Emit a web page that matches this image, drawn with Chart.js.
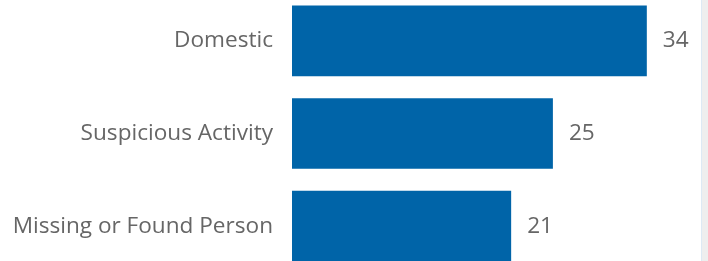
<!DOCTYPE html>
<html>
<head>
<meta charset="utf-8">
<script src="https://cdn.jsdelivr.net/npm/chart.js@4/dist/chart.umd.min.js"></script>
<style>
  html, body { margin: 0; padding: 0; background: #fff; overflow: hidden; width: 708px; height: 261px; }
  #wrap { position: relative; width: 708px; height: 261px; overflow: hidden; }
  #box { position: absolute; left: 0; top: -38px; width: 708px; height: 343px; }
  #track { position: absolute; left: 701px; top: 0; width: 7px; height: 261px; background: #eeeeee; border-left: 1px solid #dde9f4; box-sizing: border-box; }
</style>
</head>
<body>
<div id="wrap">
  <div id="box"><canvas id="c"></canvas></div>
  <div id="track"></div>
</div>
<script>
const categories = ["Domestic", "Suspicious Activity", "Missing or Found Person"];
const counts = [34, 25, 21];

const valueLabels = {
  id: 'valueLabels',
  afterDatasetsDraw(chart) {
    const ctx = chart.ctx;
    const meta = chart.getDatasetMeta(0);
    ctx.save();
    ctx.font = '22.6px "Open Sans"';
    ctx.fillStyle = '#666666';
    ctx.textAlign = 'left';
    ctx.textBaseline = 'middle';
    meta.data.forEach((bar, i) => {
      ctx.fillText(String(counts[i]), bar.x + 16, bar.y);
    });
    ctx.restore();
  }
};

const chart = new Chart(document.getElementById('c'), {
  type: 'bar',
  data: {
    labels: categories,
    datasets: [{
      data: counts,
      backgroundColor: '#0064a8',
      borderWidth: 0,
      categoryPercentage: 1,
      barPercentage: 0.763
    }]
  },
  options: {
    indexAxis: 'y',
    responsive: true,
    maintainAspectRatio: false,
    animation: false,
    layout: { padding: { left: 0, right: 9, top: 0, bottom: 0 } },
    plugins: { legend: { display: false }, tooltip: { enabled: false } },
    scales: {
      x: {
        display: false,
        min: 0,
        max: 39
      },
      y: {
        grid: { display: false, drawTicks: false },
        border: { display: false },
        ticks: {
          font: { family: 'Open Sans', size: 22.6 },
          color: '#666666',
          padding: 19
        },
        afterFit(scale) { scale.width = 292; }
      }
    }
  },
  plugins: [valueLabels]
});
</script>
</body>
</html>
